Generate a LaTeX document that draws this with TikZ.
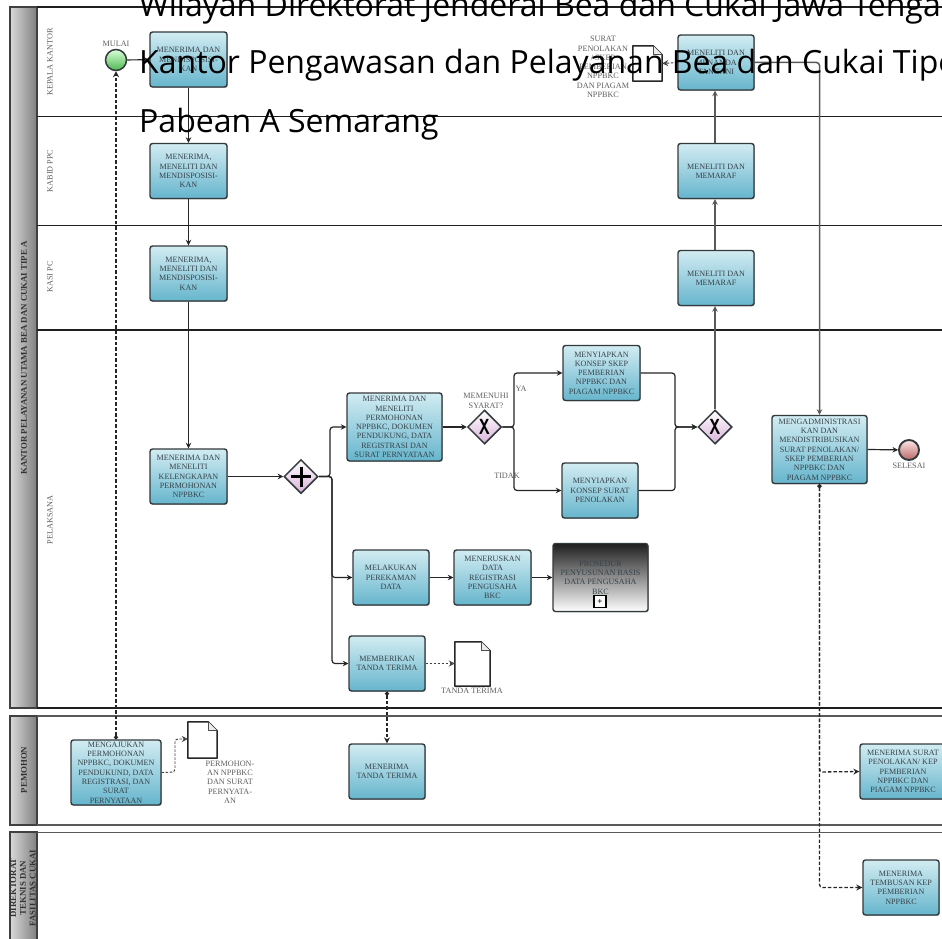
\documentclass[tikz,border=0pt]{standalone}
\usepackage{fontspec}
\usepackage{graphicx}
\setmainfont{Liberation Serif}
\newfontfamily\overlayfont{Open Sans}
\usetikzlibrary{arrows.meta,shapes.geometric,shadows,calc}
\definecolor{boxtop}{HTML}{D2ECF2}
\definecolor{boxbot}{HTML}{66B5CD}
\definecolor{edge}{HTML}{333A3D}
\definecolor{txt}{HTML}{364248}
\definecolor{lbl}{HTML}{606060}
\tikzset{
 x=1pt,y=-1pt,
 task/.style={rectangle,rounded corners=2.5pt,draw=edge,line width=1.4pt,top color=boxtop,bottom color=boxbot,
   copy shadow={shadow xshift=.8pt,shadow yshift=-.8pt,draw=none,fill=black!30},
   text=txt,align=center,inner sep=0pt,font=\fontsize{8.1}{9.3}\selectfont},
 subproc/.style={task,top color=black!88,middle color=black!30,bottom color=white},
 gate/.style={diamond,aspect=1,draw=edge,line width=1.5pt,top color=white,bottom color=violet!30,inner sep=0pt,minimum width=34,minimum height=34,
   copy shadow={shadow xshift=.6pt,shadow yshift=-.6pt,draw=none,fill=black!30},font=\fontsize{19}{19}\selectfont\sffamily\bfseries},
 small/.style={text=lbl,align=center,inner sep=0pt,font=\fontsize{8.2}{9.3}\selectfont},
 lane/.style={small,rotate=90},
 poolname/.style={rotate=90,align=center,inner sep=0pt,text=black!80,font=\fontsize{8.8}{9.8}\selectfont\bfseries},
 flow/.style={draw=black!85,line width=1.2pt,rounded corners=3pt,-{Stealth[length=5.5pt,width=5.5pt]}},
 msg/.style={draw=black!85,line width=1.3pt,dash pattern=on 3.5pt off 2pt,rounded corners=3pt,{Circle[length=4pt]}-{Stealth[open,length=6pt,width=6pt]}},
 assoc/.style={draw=black!75,line width=.9pt,dash pattern=on 2.5pt off 1.5pt,rounded corners=3pt,-{Stealth[open,length=6pt,width=6pt]}},
 rule/.style={draw=black!88,line width=1.4pt},
 poolline/.style={draw=black!65,line width=1.6pt},
 headfill/.style={draw=black!75,line width=1.4pt,left color=black!15,right color=black!50},
 docbox/.style={rectangle,inner sep=0pt,draw=none},
 overlay/.style={anchor=base west,inner sep=0pt,text=black,font=\overlayfont\fontsize{32}{32}\selectfont},
}
\newcommand{\docshape}[1]{%
 \draw[draw=black!85,line width=1.5pt,fill=white,line join=round]
  (#1.north west) -- ($(#1.north east)+(-9,0)$) -- ($(#1.north east)+(0,9)$) -- (#1.south east) -- (#1.south west) -- cycle;
 \draw[draw=black!70,line width=.9pt,fill=black!8,line join=round]
  ($(#1.north east)+(-9,0)$) -- ($(#1.north east)+(-9,9)$) -- ($(#1.north east)+(0,9)$);
}
\newcommand{\gatex}{\scalebox{.8}[1.15]{X}}
\begin{document}
\begin{tikzpicture}
\useasboundingbox (0,0) rectangle (942,939);
\clip (0,0) rectangle (942,939);
\fill[white] (0,0) rectangle (942,939);

% pools
\path[headfill] (10,7) rectangle (37,708);
\path[headfill] (10,716) rectangle (37,825);
\path[headfill] (10,832) rectangle (37,945);
\draw[rule] (37,7) -- (950,7);
\draw[rule] (37,116.5) -- (950,116.5);
\draw[rule] (37,225.5) -- (950,225.5);
\draw[rule] (37,330) -- (950,330);
\draw[rule] (37,708) -- (950,708);
\draw[poolline] (37,716) -- (950,716);
\draw[poolline] (37,825) -- (950,825);
\draw[poolline] (37,832.5) -- (950,832.5);

\node[poolname] (poolA) at (24,358) {KANTOR PELAYANAN UTAMA BEA DAN CUKAI TIPE A};
\node[poolname] (poolB) at (24,770) {PEMOHON};
\node[poolname] (poolC) at (23,888) {DIREKTORAT\\TEKNIS DAN\\FASILITAS CUKAI};
\node[lane] (laneA) at (50,62) {KEPALA KANTOR};
\node[lane] (laneB) at (50,171) {KABID PPC};
\node[lane] (laneC) at (50,277) {KASI PC};
\node[lane] (laneD) at (50,520) {PELAKSANA};

% events
\node[circle,draw=edge,line width=1.5pt,top color=green!15,bottom color=green!60!black!70,minimum size=21,inner sep=0pt] (start) at (116,60) {};
\node[small] (startl) at (116,44) {MULAI};
\node[circle,draw=edge,line width=1.9pt,top color=red!10,bottom color=red!55!black!60,minimum size=20,inner sep=0pt] (stop) at (909,450) {};
\node[small] (stopl) at (909,466) {SELESAI};

% tasks
\node[task,minimum width=77,minimum height=55] (t1) at (188.5,59.5) {MENERIMA DAN\\MENDISPOSISI-\\KAN};
\node[task,minimum width=77,minimum height=55] (t2) at (188.5,171) {MENERIMA,\\MENELITI DAN\\MENDISPOSISI-\\KAN};
\node[task,minimum width=77,minimum height=55] (t3) at (188.5,273.5) {MENERIMA,\\MENELITI DAN\\MENDISPOSISI-\\KAN};
\node[task,minimum width=77,minimum height=55] (t4) at (188.5,476.5) {MENERIMA DAN\\MENELITI\\KELENGKAPAN\\PERMOHONAN\\NPPBKC};
\node[gate] (g1) at (301,476.5) {};
\draw[black,line width=3pt] ($(g1.center)+(-10,0)$) -- ($(g1.center)+(10,0)$);
\draw[black,line width=3pt] ($(g1.center)+(0,-10)$) -- ($(g1.center)+(0,10)$);
\node[task,minimum width=95,minimum height=68] (t5) at (394.5,427) {MENERIMA DAN\\MENELITI\\PERMOHONAN\\NPPBKC, DOKUMEN\\PENDUKUNG, DATA\\REGISTRASI DAN\\SURAT PERNYATAAN};
\node[gate] (g2) at (484.5,427) {\gatex};
\node[small] (g2l) at (486,401) {MEMENUHI\\SYARAT?};
\node[task,minimum width=77,minimum height=55] (t6) at (601.5,373) {MENYIAPKAN\\KONSEP SKEP\\PEMBERIAN\\NPPBKC DAN\\PIAGAM NPPBKC};
\node[task,minimum width=76,minimum height=55] (t7) at (600,490.5) {MENYIAPKAN\\KONSEP SURAT\\PENOLAKAN};
\node[small] (ya) at (521,389) {YA};
\node[small] (tidak) at (507,476) {TIDAK};
\node[gate] (g3) at (715,427) {\gatex};
\node[task,minimum width=76,minimum height=55] (r3) at (716,278) {MENELITI DAN\\MEMARAF};
\node[task,minimum width=76,minimum height=55] (r2) at (716,171) {MENELITI DAN\\MEMARAF};
\node[task,minimum width=76,minimum height=55] (r1) at (716,62.5) {MENELITI DAN\\MENANDA\\TANGANI};
\node[task,minimum width=95,minimum height=68] (t8) at (819.5,449.5) {MENGADMINISTRASI\\KAN DAN\\MENDISTRIBUSIKAN\\SURAT PENOLAKAN/\\SKEP PEMBERIAN\\NPPBKC DAN\\PIAGAM NPPBKC};
\node[task,minimum width=76,minimum height=55] (t9) at (391,577.5) {MELAKUKAN\\PEREKAMAN\\DATA};
\node[task,minimum width=77,minimum height=55] (t10) at (492.5,577.5) {MENERUSKAN\\DATA\\REGISTRASI\\PENGUSAHA\\BKC};
\node[subproc,minimum width=95,minimum height=68] (sp) at (600.5,577.5) {PROSEDUR\\PENYUSUNAN BASIS\\DATA PENGUSAHA\\BKC};
\node[draw=black,line width=1.1pt,fill=white,minimum size=12,inner sep=0pt,font=\fontsize{9}{9}\selectfont\bfseries] (spm) at (600,601.5) {+};
\node[task,minimum width=76,minimum height=55] (t12) at (387,663.5) {MEMBERIKAN\\TANDA TERIMA};
\node[docbox,minimum width=35,minimum height=44] (d2) at (472.5,664) {};
\node[small] (d2l) at (472,691) {TANDA TERIMA};
\node[task,minimum width=90,minimum height=65] (p1) at (116,772.5) {MENGAJUKAN\\PERMOHONAN\\NPPBKC, DOKUMEN\\PENDUKUND, DATA\\REGISTRASI, DAN\\SURAT\\PERNYATAAN};
\node[docbox,minimum width=29,minimum height=36] (d3) at (202.5,740) {};
\node[small] (d3l) at (230,782) {PERMOHON-\\AN NPPBKC\\DAN SURAT\\PERNYATA-\\AN};
\node[task,minimum width=76,minimum height=55] (p2) at (387,771.5) {MENERIMA\\TANDA TERIMA};
\node[task,minimum width=86,minimum height=55] (p3) at (903,771.5) {MENERIMA SURAT\\PENOLAKAN/ KEP\\PEMBERIAN\\NPPBKC DAN\\PIAGAM NPPBKC};
\node[task,minimum width=76,minimum height=55] (p4) at (901,887.5) {MENERIMA\\TEMBUSAN KEP\\PEMBERIAN\\NPPBKC};
\node[docbox,minimum width=29,minimum height=35] (d1) at (647.5,63.5) {};
\node[small] (d1l) at (603,67) {SURAT\\PENOLAKAN\\/ SKEP\\PEMBERIAN\\NPPBKC\\DAN PIAGAM\\NPPBKC};
\docshape{d1}
\docshape{d2}
\docshape{d3}

% junctions
\coordinate (j1) at (330,476.5);
\coordinate (j2) at (332,476.5);
\coordinate (j3) at (514,427);
\coordinate (j4) at (675,427);
\coordinate (j5) at (819.5,772);
\coordinate (j6) at (175,772);
\coordinate (j7) at (175,739);

% sequence flows
\draw[flow] (start) -- (t1);
\draw[flow] (t1) -- (t2);
\draw[flow] (t2) -- (t3);
\draw[flow] (t3) -- (t4);
\draw[flow] (t4) -- (g1);
\draw[flow] (g1.east) -- (j1) |- (t5.west);
\draw[flow] (g1.east) -- (j2) |- (t9.west);
\draw[flow] (g1.east) -- (j2) |- (t12.west);
\draw[flow] (t5.east |- g2) -- (g2);
\draw[flow] (g2.east) -- (j3) |- (t6.west);
\draw[flow] (g2.east) -- (j3) |- (t7.west);
\draw[flow] (t6.east) -| (j4) -- (g3.west);
\draw[flow] (t7.east) -| (j4) -- (g3.west);
\draw[flow,draw=black!65,line width=1.5pt] (g3.north) -- (g3.north |- r3.south);
\draw[flow,draw=black!65,line width=1.5pt] (g3.north |- r3.north) -- (g3.north |- r2.south);
\draw[flow,draw=black!65,line width=1.5pt] (g3.north |- r2.north) -- (g3.north |- r1.south);
\draw[flow,draw=black!65,line width=1.5pt] (r1.east) -| (t8.north);
\draw[flow] (t8.east) -- (stop);
\draw[flow] (t9) -- (t10);
\draw[flow] (t10) -- (sp);

% associations and messages
\draw[assoc] (r1.west) -- (d1.east);
\draw[assoc] (t12.east) -- (d2.west |- t12.east);
\draw[assoc] (p1.east) -- (j6) |- (d3.west |- j7);
\draw[msg] (p1.north) -- (start.south);
\draw[msg] (t12.south) -- (p2.north);
\draw[msg] (t8.south) -- (j5) -- (p3.west);
\draw[msg] (t8.south) |- (p4.west);

% overlaid heading
\node[overlay] (h1) at (139,17) {Wilayah Direktorat Jenderal Bea dan Cukai Jawa Tengah};
\node[overlay] (h2) at (139,74) {Kantor Pengawasan dan Pelayanan Bea dan Cukai Tipe};
\node[overlay] (h3) at (139,132) {Pabean A Semarang};
\end{tikzpicture}
\end{document}
